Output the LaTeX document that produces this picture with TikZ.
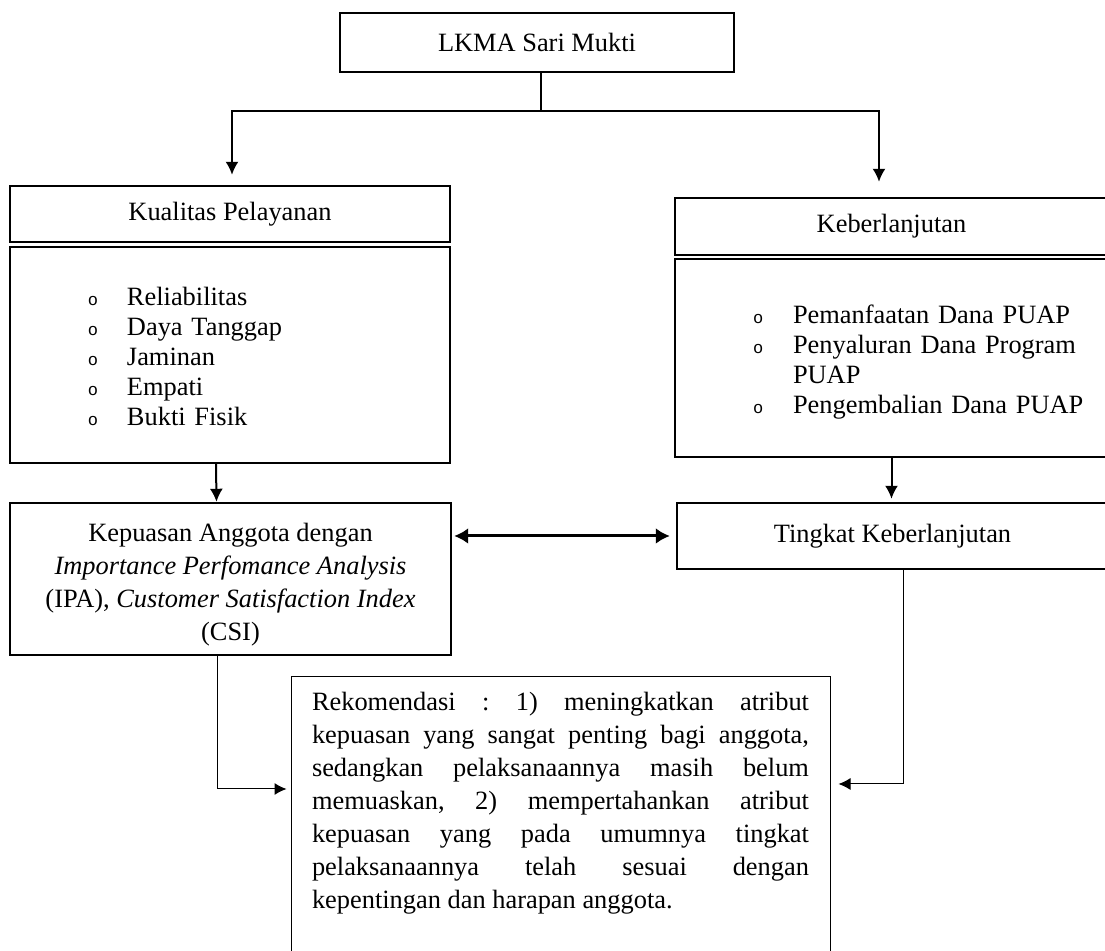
\documentclass[tikz,border=0pt]{standalone}
\usepackage{fontspec}
\setmainfont{Liberation Serif}
\newfontfamily\bulfont{Liberation Mono}
\usetikzlibrary{arrows.meta,calc}
\tolerance=10000
\hbadness=10000
\hyphenpenalty=10000
\exhyphenpenalty=10000
\frenchspacing
\newcommand{\bul}{{\bulfont\fontsize{8.5}{8.5}\selectfont o}}
\newcommand{\lowered}[1]{\raisebox{-2.5pt}[\height][\depth]{#1}}

\begin{document}
\begin{tikzpicture}[x=0.5pt,y=-0.5pt,
    box/.style={draw, line width=1.2pt, inner sep=0pt, align=center, font=\fontsize{13.2}{16.5}\selectfont},
    listbox/.style={draw, line width=1.2pt, inner sep=0pt, align=left, font=\fontsize{13.2}{15}\selectfont},
    recbox/.style={draw, line width=0.5pt, inner xsep=10.5pt, inner ysep=8pt, text width=248.5pt, align=justify, font=\fontsize{13.2}{16.5}\selectfont},
    conn/.style={line width=1pt, -{Latex[length=6.5pt,width=6.5pt]}},
    thinconn/.style={line width=0.5pt, -{Latex[length=6pt,width=6pt]}},
    dblconn/.style={line width=1.5pt, {Latex[length=7pt,width=8pt]}-{Latex[length=7pt,width=8pt]}}]
    \useasboundingbox (0,0) rectangle (1105,951);
    \clip (0,0) rectangle (1105,951);

    % Top
    \node[box, minimum width=197pt, minimum height=29.5pt] (lkma) at (537,42.5) {LKMA Sari Mukti};

    % Left column
    \node[box, minimum width=220pt, minimum height=28pt] (kual) at (230,214) {Kualitas Pelayanan};
    \node[listbox, minimum width=220pt, minimum height=108pt, text width=220pt] (kuallist) at (230,355) {%
        \lowered{\begin{tabular}{@{\hspace{39pt}}p{19.5pt}@{}l@{}}
            \bul & Reliabilitas\\
            \bul & Daya Tanggap\\
            \bul & Jaminan\\
            \bul & Empati\\
            \bul & Bukti Fisik
        \end{tabular}}};
    \node[box, minimum width=220.5pt, minimum height=76pt] (kep) at (230.5,579) {%
        \lowered{\begin{tabular}{@{}c@{}}
            Kepuasan Anggota dengan\\
            \textit{Importance Perfomance Analysis}\\
            (IPA), \textit{Customer Satisfaction Index}\\
            (CSI)
        \end{tabular}}};

    % Right column
    \node[box, minimum width=216.5pt, minimum height=28.5pt] (keb) at (891.5,226.5) {Keberlanjutan};
    \node[listbox, minimum width=216.5pt, minimum height=99pt, text width=216.5pt] (keblist) at (891.5,358) {%
        \lowered{\begin{tabular}{@{\hspace{39pt}}p{20pt}@{}p{149pt}@{}}
            \bul & Pemanfaatan Dana PUAP\\
            \bul & Penyaluran Dana Program PUAP\\
            \bul & Pengembalian Dana PUAP
        \end{tabular}}};
    \node[box, minimum width=215.5pt, minimum height=33pt] (ting) at (892.5,536) {Tingkat Keberlanjutan};

    % Bottom
    \node[recbox, anchor=north] (rek) at (560.5,676) {Rekomendasi : 1) meningkatkan atribut\linebreak
        kepuasan yang sangat penting bagi anggota,\linebreak
        sedangkan pelaksanaannya masih belum\linebreak
        memuaskan, 2) mempertahankan atribut\linebreak
        kepuasan yang pada umumnya tingkat\linebreak
        pelaksanaannya telah sesuai dengan\linebreak
        kepentingan dan harapan anggota.\par\vspace*{30pt}\mbox{}};

    % Connections
    \draw[line width=1pt] ($(lkma.south)+(4,0)$) -- ++(0,38) coordinate (split);
    \draw[conn] (split) -| ($(kual.north)+(2,-10)$);
    \draw[conn] (split) -| ($(keb.north)+(-12.5,-15)$);
    \draw[conn] ($(kuallist.south)+(-14,0)$) -- ($(kep.north)+(-14,0)$);
    \draw[conn] (keblist.south) -- ($(keblist.south |- ting.north)+(0,-3)$);
    \draw[dblconn] ($(kep.east |- ting.west)+(2,0)$) -- ($(ting.west)+(-6,0)$);
    \draw[thinconn] ($(kep.south)+(-13.5,0)$) |- ($(rek.north west)+(-4,113)$);
    \draw[thinconn] ($(ting.south)+(10.5,0)$) |- ($(rek.north east)+(8,108)$);
\end{tikzpicture}
\end{document}
